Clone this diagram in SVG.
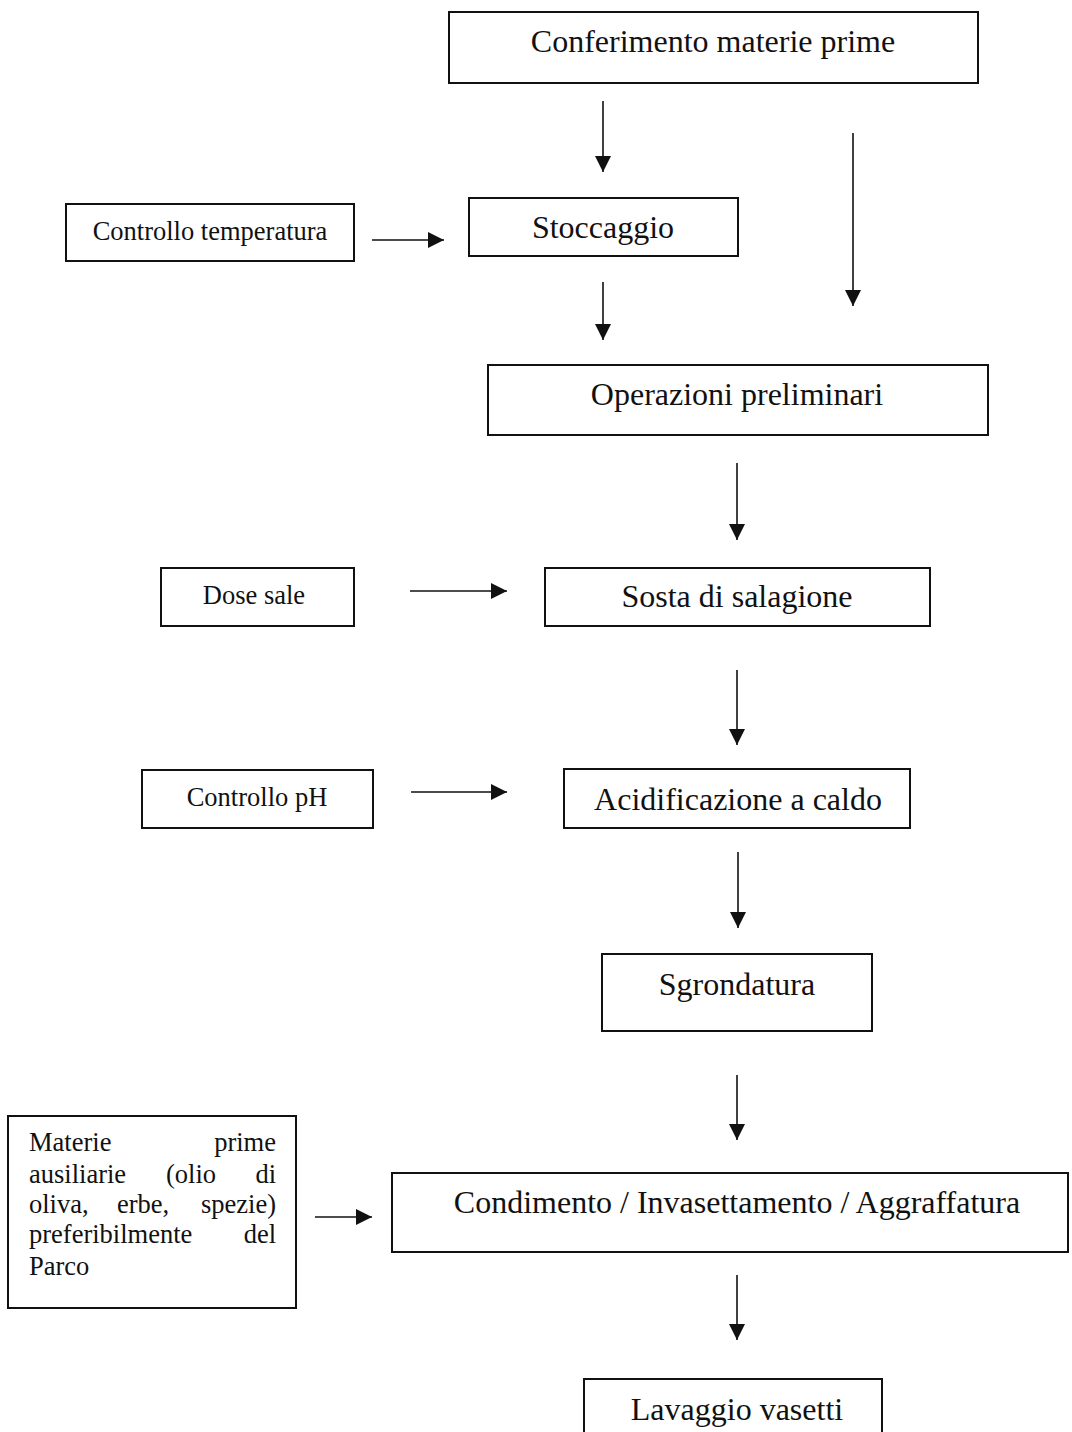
<svg xmlns="http://www.w3.org/2000/svg" width="1072" height="1432" viewBox="0 0 1072 1432">
  <style>
    .box { fill: #fff; stroke: #111; stroke-width: 2; }
    .big { font-family: "Liberation Serif", "Times New Roman", serif; font-size: 32px; fill: #111; text-anchor: middle; }
    .small { font-family: "Liberation Serif", "Times New Roman", serif; font-size: 26.5px; fill: #111; }
    .mid { text-anchor: middle; }
    .end { text-anchor: end; }
    .link { stroke: #111; stroke-width: 1.6; fill: none; marker-end: url(#head); }
  </style>
  <defs>
    <marker id="head" markerUnits="userSpaceOnUse" markerWidth="16" markerHeight="16" refX="16" refY="8" orient="auto">
      <path d="M0,0 L16,8 L0,16 z" fill="#111"/>
    </marker>
  </defs>
  <rect width="1072" height="1432" fill="#fff"/>

  <g id="conferimento">
    <rect class="box" x="449" y="12" width="529" height="71"/>
    <text class="big" x="713" y="52">Conferimento materie prime</text>
  </g>
  <g id="controllo-temperatura">
    <rect class="box" x="66" y="204" width="288" height="57"/>
    <text class="small mid" x="210" y="240">Controllo temperatura</text>
  </g>
  <g id="stoccaggio">
    <rect class="box" x="469" y="198" width="269" height="58"/>
    <text class="big" x="603" y="238">Stoccaggio</text>
  </g>
  <g id="operazioni">
    <rect class="box" x="488" y="365" width="500" height="70"/>
    <text class="big" x="737" y="405">Operazioni preliminari</text>
  </g>
  <g id="dose-sale">
    <rect class="box" x="161" y="568" width="193" height="58"/>
    <text class="small mid" x="254" y="604">Dose sale</text>
  </g>
  <g id="sosta">
    <rect class="box" x="545" y="568" width="385" height="58"/>
    <text class="big" x="737" y="607">Sosta di salagione</text>
  </g>
  <g id="controllo-ph">
    <rect class="box" x="142" y="770" width="231" height="58"/>
    <text class="small mid" x="257" y="806">Controllo pH</text>
  </g>
  <g id="acidificazione">
    <rect class="box" x="564" y="769" width="346" height="59"/>
    <text class="big" x="738" y="810">Acidificazione a caldo</text>
  </g>
  <g id="sgrondatura">
    <rect class="box" x="602" y="954" width="270" height="77"/>
    <text class="big" x="737" y="995">Sgrondatura</text>
  </g>
  <g id="materie-ausiliarie">
    <rect class="box" x="8" y="1116" width="288" height="192"/>
    <text class="small" x="29" y="1151">Materie</text>
    <text class="small end" x="276" y="1151">prime</text>
    <text class="small" x="29" y="1183">ausiliarie</text>
    <text class="small" x="166" y="1183">(olio</text>
    <text class="small end" x="276" y="1183">di</text>
    <text class="small" x="29" y="1213">oliva,</text>
    <text class="small" x="117" y="1213">erbe,</text>
    <text class="small end" x="276" y="1213">spezie)</text>
    <text class="small" x="29" y="1243">preferibilmente</text>
    <text class="small end" x="276" y="1243">del</text>
    <text class="small" x="29" y="1275">Parco</text>
  </g>
  <g id="condimento">
    <rect class="box" x="392" y="1173" width="676" height="79"/>
    <text class="big" x="737" y="1213">Condimento / Invasettamento / Aggraffatura</text>
  </g>
  <g id="lavaggio">
    <rect class="box" x="584" y="1379" width="298" height="70"/>
    <text class="big" x="737" y="1420">Lavaggio vasetti</text>
  </g>

  <g id="connectors">
    <line class="link" x1="603" y1="101" x2="603" y2="172"/>
    <line class="link" x1="853" y1="133" x2="853" y2="306"/>
    <line class="link" x1="372" y1="240" x2="444" y2="240"/>
    <line class="link" x1="603" y1="282" x2="603" y2="340"/>
    <line class="link" x1="737" y1="463" x2="737" y2="540"/>
    <line class="link" x1="410" y1="591" x2="507" y2="591"/>
    <line class="link" x1="737" y1="670" x2="737" y2="745"/>
    <line class="link" x1="411" y1="792" x2="507" y2="792"/>
    <line class="link" x1="738" y1="852" x2="738" y2="928"/>
    <line class="link" x1="737" y1="1075" x2="737" y2="1140"/>
    <line class="link" x1="315" y1="1217" x2="372" y2="1217"/>
    <line class="link" x1="737" y1="1275" x2="737" y2="1340"/>
  </g>
</svg>
